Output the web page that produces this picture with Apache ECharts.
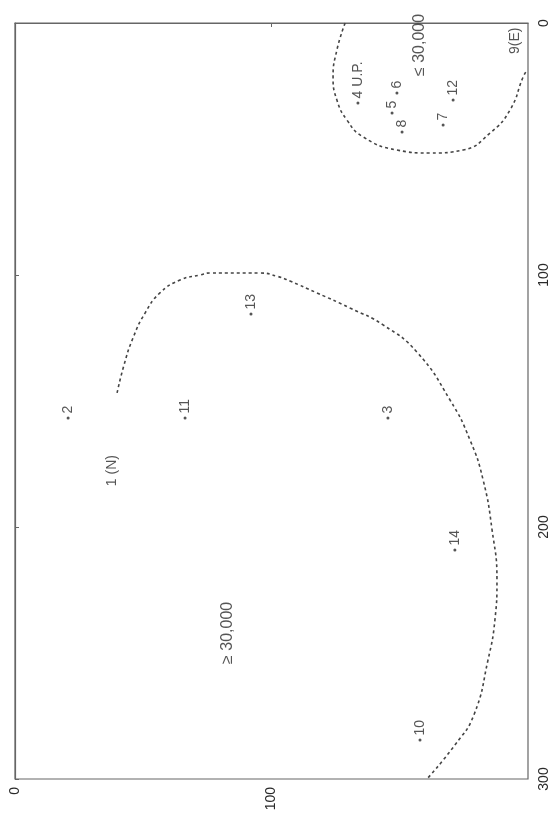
<!DOCTYPE html>
<html>
<head>
<meta charset="utf-8">
<script src="https://cdn.jsdelivr.net/npm/echarts@6/dist/echarts.min.js"></script>
<style>
  html, body { margin: 0; padding: 0; background: #fff; }
  #chart { width: 555px; height: 819px; }
</style>
</head>
<body>
<div id="chart"></div>
<script>
// Axis ticks
const hTicks = [0, 100, 200];
const vTicks = [0, 100, 200, 300];

// Numbered sites: label, horizontal value, vertical value, dot shown
const siteLabels = ['1 (N)', '2', '3', '4 U.P.', '5', '6', '7', '8', '9(E)', '10', '11', '12', '13', '14'];
const siteH = [37.8, 20.7, 145.4, 133.7, 147.0, 148.9, 166.9, 150.9, 194.9, 157.9, 66.3, 170.8, 92.0, 171.5];
const siteV = [185.0, 156.7, 156.7, 31.7, 35.7, 27.8, 40.5, 43.3, 13.5, 284.5, 156.7, 30.6, 115.5, 209.1];
const siteDot = [false, true, true, true, true, true, true, true, false, true, true, true, true, true];

// Boundary of the large-population zone
const bigH = [39.8, 42.5, 46.0, 50.7, 56.5, 64.3, 72.1, 76.0, 95.5, 102.5, 107.2, 117.7, 130.6, 143.5, 156.7, 169.6, 177.4, 182.5, 186.0, 187.9, 187.1, 184.4, 178.9, 171.5, 160.6];
const bigV = [146.8, 135.7, 125.0, 115.1, 107.1, 102.0, 100.0, 99.2, 99.2, 100.6, 102.4, 107.1, 113.1, 119.8, 130.6, 149.6, 165.5, 181.3, 201.2, 221.0, 236.9, 252.8, 274.6, 286.5, 300];

// Boundary of the small-population zone
const smallH = [128.7, 125.5, 124.0, 125.5, 129.4, 135.7, 148.9, 161.8, 174.7, 185.2, 193.0, 198.1, 199.6];
const smallV = [0, 10.7, 21.4, 30.6, 38.5, 45.2, 50.4, 51.6, 50.4, 43.7, 34.5, 21.4, 18.7];

// Zone captions
const zoneLabels = ['≤ 30,000', '≥ 30,000'];
const zoneH = [157.9, 83.0];
const zoneV = [8.7, 242.0];

const FONT = 'Liberation Sans, Arial, sans-serif';
const INK = '#2a2a2a';

const zip = (a, b) => a.map((v, i) => [v, b[i]]);

const siteData = siteLabels.map((name, i) => ({
  name: name,
  value: [siteH[i], siteV[i]],
  symbolSize: siteDot[i] ? 3 : 0
}));

const chart = echarts.init(document.getElementById('chart'), null, { renderer: 'canvas' });

chart.setOption({
  backgroundColor: '#fff',
  animation: false,
  grid: {
    left: 15, right: 27, top: 23, bottom: 40,
    show: true, borderColor: '#666', borderWidth: 1.2, backgroundColor: 'transparent'
  },
  xAxis: {
    type: 'value', position: 'bottom',
    min: hTicks[0], max: hTicks[hTicks.length - 1], interval: 100,
    axisLine: { show: true, lineStyle: { color: '#666', width: 1.2 } },
    axisTick: { show: true, length: 4, lineStyle: { color: '#666' } },
    splitLine: { show: false },
    axisLabel: {
      rotate: 90, margin: 8, color: INK, fontFamily: FONT, fontSize: 14,
      showMaxLabel: false
    }
  },
  yAxis: {
    type: 'value', position: 'right', inverse: true,
    min: vTicks[0], max: vTicks[vTicks.length - 1], interval: 100,
    axisLine: { show: true, lineStyle: { color: '#666', width: 1.2 } },
    axisTick: { show: true, length: 4, lineStyle: { color: '#666' } },
    splitLine: { show: false },
    axisLabel: { rotate: 90, margin: 9, color: INK, fontFamily: FONT, fontSize: 14 }
  },
  series: [
    {
      type: 'line', data: zip(bigH, bigV), smooth: 0.5, symbol: 'none',
      lineStyle: { color: '#444', width: 1.6, type: [3, 3] }, z: 2
    },
    {
      type: 'line', data: zip(smallH, smallV), smooth: 0.5, symbol: 'none',
      lineStyle: { color: '#444', width: 1.6, type: [3, 3] }, z: 2
    },
    {
      type: 'scatter', data: siteData, symbol: 'circle',
      itemStyle: { color: INK },
      label: {
        show: true, formatter: p => p.name, position: 'top', distance: 3,
        rotate: 90, align: 'left', verticalAlign: 'middle',
        color: INK, fontFamily: FONT, fontSize: 14
      },
      z: 3
    },
    {
      type: 'scatter', data: zip(zoneH, zoneV).map((v, i) => ({ name: zoneLabels[i], value: v })),
      symbolSize: 0,
      label: {
        show: true, formatter: p => p.name, position: 'inside',
        rotate: 90, align: 'center', verticalAlign: 'middle',
        color: INK, fontFamily: FONT, fontSize: 16
      },
      z: 3
    }
  ]
});
</script>
</body>
</html>
